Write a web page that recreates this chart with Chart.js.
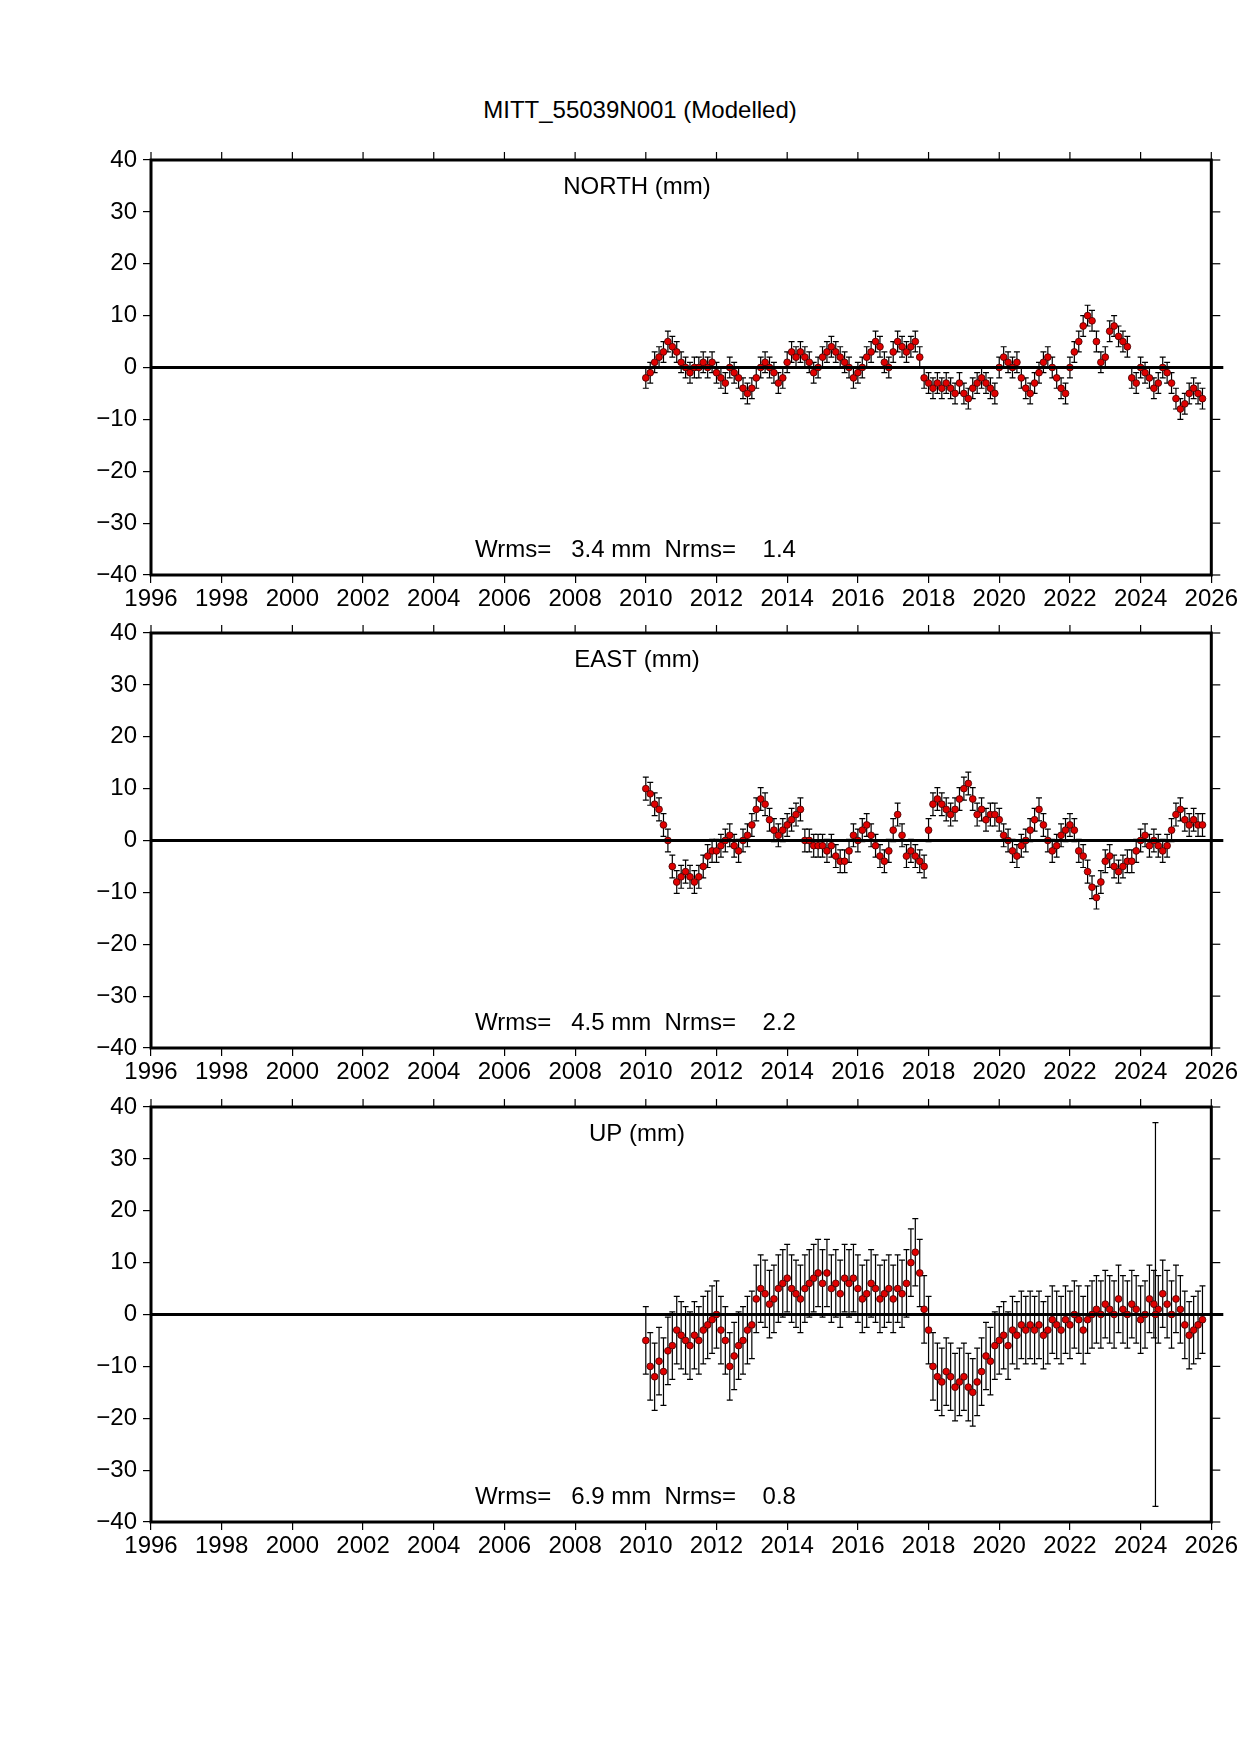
<!DOCTYPE html>
<html>
<head>
<meta charset="utf-8">
<script src="https://cdn.jsdelivr.net/npm/chart.js@4"></script>
<style>
  body { margin: 0; background: #fff; width: 1240px; height: 1754px; position: relative; font-family: "Liberation Sans", Arial, sans-serif; }
  #titulo { position: absolute; top: 96px; left: 0; width: 1280px; text-align: center; font-size: 24px; }
  .painel { position: absolute; left: 0; width: 1240px; height: 490px; }
</style>
</head>
<body>
<div id="titulo">MITT_55039N001 (Modelled)</div>
<div class="painel" style="top:130px"><canvas id="gNorth"></canvas></div>
<div class="painel" style="top:603px"><canvas id="gEast"></canvas></div>
<div class="painel" style="top:1077px"><canvas id="gUp"></canvas></div>
<script>
// epocas: inicio 2010.0, passo de 1/8 de ano
const inicioAno = 2010.0;
const passoAno = 0.125;

const north = [
  -2,-1,1,2,3,5,4,3,
  1,0,-1,0,0,1,0,1,
  -1,-2,-3,0,-1,-2,-4,-5,
  -4,-2,0,1,0,-1,-3,-2,
  1,3,2,3,2,1,-1,0,
  2,3,4,3,2,1,0,-2,
  -1,0,2,3,5,4,1,0,
  3,5,4,3,4,5,2,-2,
  -3,-4,-3,-4,-3,-4,-5,-3,
  -5,-6,-4,-3,-2,-3,-4,-5,
  0,2,1,0,1,-2,-4,-5,
  -3,-1,1,2,0,-2,-4,-5,
  0,3,5,8,10,9,5,1,
  2,7,8,6,5,4,-2,-3,
  0,-1,-2,-4,-3,0,-1,-3,
  -6,-8,-7,-5,-4,-5,-6
];
const east = [
  10,9,7,6,3,0,-5,-8,
  -7,-6,-7,-8,-7,-5,-3,-2,
  -2,-1,0,1,-1,-2,0,1,
  3,6,8,7,4,2,1,2,
  3,4,5,6,0,0,-1,-1,
  -1,-2,-1,-3,-4,-4,-2,1,
  0,2,3,1,-1,-3,-4,-2,
  2,5,1,-3,-2,-3,-4,-5,
  2,7,8,7,6,5,6,8,
  10,11,8,5,6,4,5,5,
  4,1,0,-2,-3,-1,0,2,
  4,6,3,0,-2,-1,1,2,
  3,2,-2,-3,-6,-9,-11,-8,
  -4,-3,-5,-6,-5,-4,-4,-2,
  0,1,-1,0,-1,-2,-1,2,
  5,6,4,3,4,3,3
];
const up = [
  -5,-10,-12,-9,-11,-7,-6,-3,
  -4,-5,-6,-4,-5,-3,-2,-1,
  0,-3,-5,-10,-8,-6,-5,-3,
  -2,3,5,4,2,3,5,6,
  7,5,4,3,5,6,7,8,
  6,8,5,6,4,7,6,7,
  5,3,4,6,5,3,4,5,
  3,5,4,6,10,12,8,1,
  -3,-10,-12,-13,-11,-12,-14,-13,
  -12,-14,-15,-13,-11,-8,-9,-6,
  -5,-4,-6,-3,-4,-2,-3,-2,
  -3,-2,-4,-3,-1,-2,-3,-1,
  -2,0,-1,-3,-1,0,1,0,
  2,1,0,3,1,0,2,1,
  -1,0,3,2,1,4,2,0,
  3,1,-2,-4,-3,-2,-1
];
// sigma (mm) de cada componente
const sigmaNorth = 2;
const sigmaEast = 2.2;
const sigmaUp = 6.5;
// ponto com barra de erro enorme no UP
const upOutlier = { x: 2024.42, y: 0, e: 37 };

const yTicks = [-40, -30, -20, -10, 0, 10, 20, 30, 40];
const xTicks = [1996, 1998, 2000, 2002, 2004, 2006, 2008, 2010, 2012, 2014, 2016, 2018, 2020, 2022, 2024, 2026];

const FONTE = "Liberation Sans";

function montarPontos(valores, sigma) {
  return valores.map((v, i) => ({ x: inicioAno + i * passoAno, y: v, e: sigma }));
}

const pluginExtras = {
  id: "extras",
  beforeDatasetsDraw(chart) {
    const ctx = chart.ctx;
    const xs = chart.scales.x, ys = chart.scales.y;
    ctx.save();
    ctx.strokeStyle = "#000";
    ctx.lineWidth = 1.2;
    chart.data.datasets.forEach(ds => {
      ds.data.forEach(p => {
        const px = xs.getPixelForValue(p.x);
        const y1 = ys.getPixelForValue(p.y + p.e);
        const y2 = ys.getPixelForValue(p.y - p.e);
        ctx.beginPath();
        ctx.moveTo(px, y1); ctx.lineTo(px, y2);
        ctx.moveTo(px - 3, y1); ctx.lineTo(px + 3, y1);
        ctx.moveTo(px - 3, y2); ctx.lineTo(px + 3, y2);
        ctx.stroke();
      });
    });
    ctx.restore();
  },
  afterDatasetsDraw(chart, args, opts) {
    const ctx = chart.ctx;
    const a = chart.chartArea;
    const ys = chart.scales.y;
    ctx.save();
    // linha do zero
    ctx.strokeStyle = "#000";
    ctx.lineWidth = 3;
    const y0 = ys.getPixelForValue(0);
    ctx.beginPath(); ctx.moveTo(a.left, y0); ctx.lineTo(a.right + 12, y0); ctx.stroke();
    // moldura
    ctx.lineWidth = 3;
    ctx.strokeRect(a.left, a.top, a.right - a.left, a.bottom - a.top);
    // ticks de cima e da direita
    ctx.lineWidth = 1.2;
    const xs = chart.scales.x;
    xTicks.forEach(t => {
      const px = xs.getPixelForValue(t);
      ctx.beginPath(); ctx.moveTo(px, a.top); ctx.lineTo(px, a.top - 8); ctx.stroke();
    });
    yTicks.forEach(t => {
      const py = ys.getPixelForValue(t);
      ctx.beginPath(); ctx.moveTo(a.right, py); ctx.lineTo(a.right + 9, py); ctx.stroke();
    });
    // textos
    ctx.fillStyle = "#000";
    ctx.font = `24px "${FONTE}"`;
    ctx.textAlign = "center";
    ctx.textBaseline = "middle";
    ctx.fillText(opts.rotulo, 637, a.top + 27);
    ctx.textAlign = "left";
    ctx.fillText(opts.estat, 475, a.bottom - 25);
    ctx.restore();
  }
};

function criarGrafico(id, pontos, rotulo, estat) {
  const ctx = document.getElementById(id).getContext("2d");
  return new Chart(ctx, {
    type: "scatter",
    data: {
      datasets: [{
        data: pontos,
        pointRadius: 3.4,
        pointBackgroundColor: "#e00000",
        pointBorderColor: "#400000",
        pointBorderWidth: 0.8
      }]
    },
    plugins: [pluginExtras],
    options: {
      responsive: true,
      maintainAspectRatio: false,
      animation: false,
      layout: { padding: { top: 30, right: 17, left: 0, bottom: 0 } },
      plugins: {
        legend: { display: false },
        tooltip: { enabled: false },
        extras: { rotulo: rotulo, estat: estat }
      },
      scales: {
        x: {
          type: "linear",
          min: 1996, max: 2026,
          afterBuildTicks: s => { s.ticks = xTicks.map(v => ({ value: v })); },
          ticks: {
            color: "#000", font: { family: FONTE, size: 24 }, padding: 2, maxRotation: 0, autoSkip: false,
            callback: v => String(v)
          },
          grid: { drawOnChartArea: false, color: "#000", tickLength: 8, lineWidth: 1.2 },
          border: { display: false },
          afterFit: s => { s.height = 45; }
        },
        y: {
          min: -40, max: 40,
          afterBuildTicks: s => { s.ticks = yTicks.map(v => ({ value: v })); },
          ticks: {
            color: "#000", font: { family: FONTE, size: 24 }, padding: 6,
            callback: v => v < 0 ? "\u2212" + Math.abs(v) : String(v)
          },
          grid: { drawOnChartArea: false, color: "#000", tickLength: 8, lineWidth: 1.2 },
          border: { display: false },
          afterFit: s => { s.width = 151; }
        }
      }
    }
  });
}

window.onload = () => {
  criarGrafico("gNorth", montarPontos(north, sigmaNorth), "NORTH (mm)", "Wrms=   3.4 mm  Nrms=    1.4");
  criarGrafico("gEast", montarPontos(east, sigmaEast), "EAST (mm)", "Wrms=   4.5 mm  Nrms=    2.2");
  criarGrafico("gUp", montarPontos(up, sigmaUp).concat([upOutlier]), "UP (mm)", "Wrms=   6.9 mm  Nrms=    0.8");
};
</script>
</body>
</html>
